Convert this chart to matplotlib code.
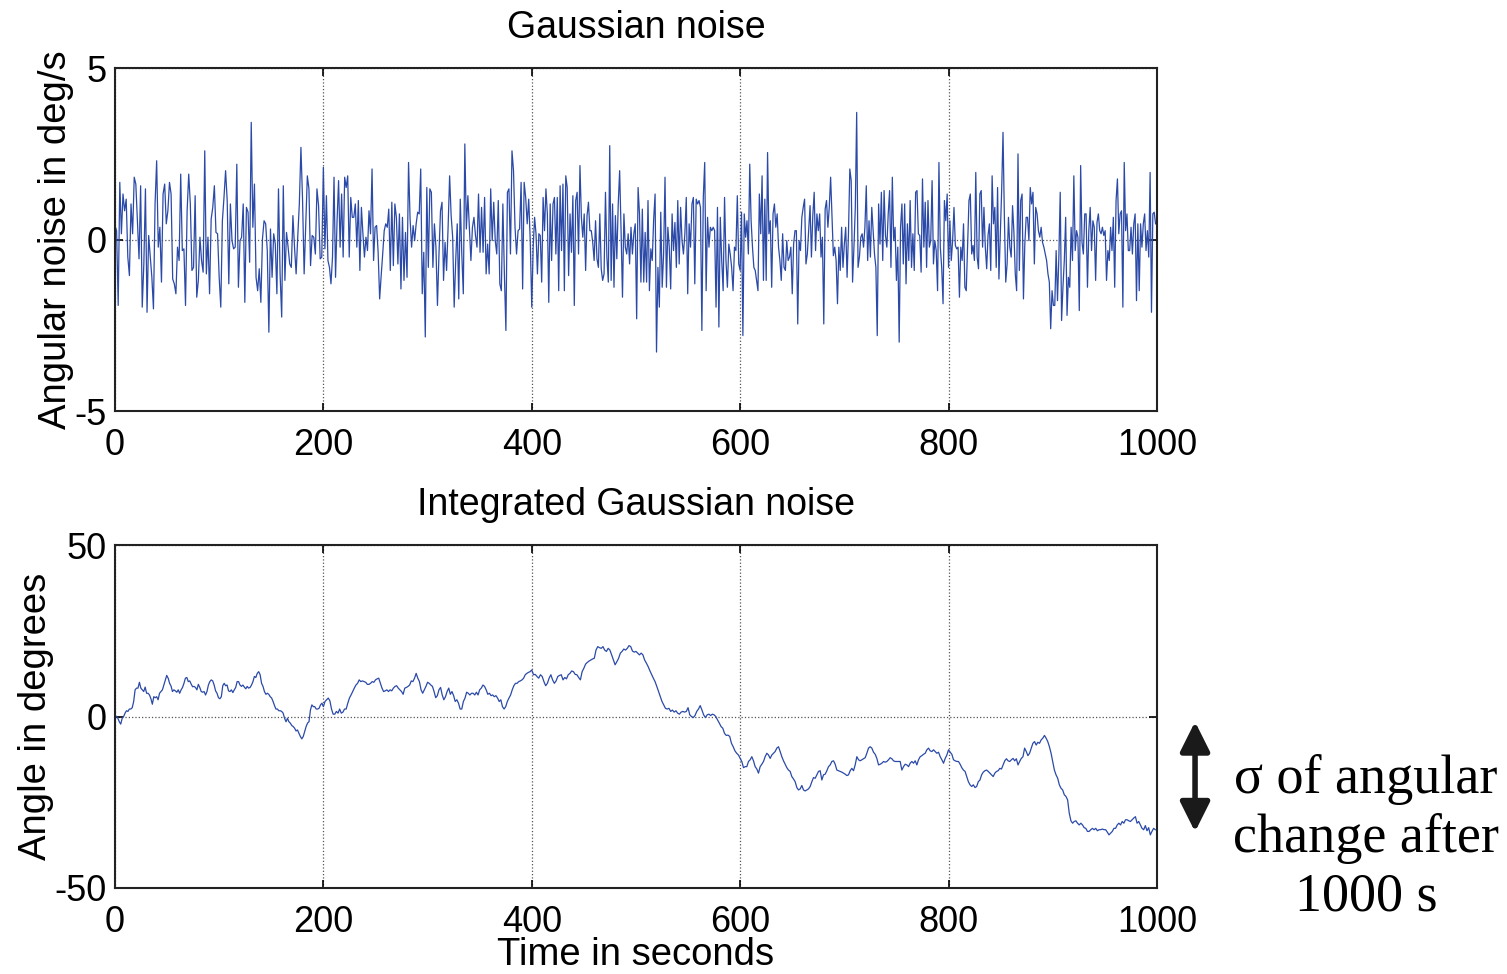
import numpy as np
import matplotlib.pyplot as plt

plt.rcParams['font.family'] = ['Liberation Sans', 'DejaVu Sans']
plt.rcParams['axes.unicode_minus'] = False

# angular noise in deg/s, one list per 200 s block
noise_000_200 = [0.41, 0.26, -1.92, 1.67, 0.17, 1.33, 0.84, 1.18, -0.51, -1.05, 1.04, 0.17, 1.82, 1.62, 0.55,
                 -0.56, 1.57, -1.97, -0.71, 1.48, -2.12, 0.12, -0.51, -1.10, -2.02, 1.04, 2.30, -0.22, 0.36, -1.24,
                 1.33, 1.62, 0.46, 0.84, 1.67, 1.33, -1.15, -1.29, -1.58, -0.22, -0.61, 1.91, -0.32, -0.27, -1.92,
                 0.84, 1.91, 1.04, -0.90, -0.81, 1.28, -1.68, -1.19, 0.07, -0.61, -0.95, 2.59, -1.00, 0.07, -1.58,
                 0.60, 0.94, 1.57, 0.21, 0.17, -1.10, -1.97, 0.55, 1.23, 2.01, 1.14, -1.29, 1.04, -0.03, -0.27,
                 -0.22, 2.20, -1.39, -0.03, 0.07, 1.04, -1.83, 0.94, 0.80, -0.66, 3.42, 0.36, 1.62, -1.10, -1.49,
                 -0.85, -1.83, 0.02, 0.55, 0.46, -0.32, -2.70, 0.31, -1.10, 0.17, -0.13, -1.58, 1.48, -1.00, -2.26,
                 1.57, -1.19, 0.21, -0.22, -0.71, -0.81, 0.70, -0.22, -1.00, 0.07, 1.04, 2.69, 1.18, -1.00, 0.41,
                 1.86, 1.48, -0.76, 0.12, 0.07, -0.42, 1.48, 0.99, -0.56, -0.51]
noise_200_400 = [2.11, -0.27, 1.28, -0.61, -0.81, -1.29, -0.51, 1.82, -1.10, 0.55, 1.72, -0.22, 1.33, -0.51, 1.82,
                 1.52, 1.86, -0.51, 1.23, 0.65, 0.65, 1.04, -0.22, 1.14, -0.90, 0.94, 0.17, -0.51, 0.07, -0.32,
                 0.84, 0.17, 2.06, -0.61, 0.36,
                 0.41, -0.37, -1.73, -1.05, -0.42, 0.26, 0.46, 0.36, 0.89, -0.90, 1.09, -0.76, 1.04, 0.65, -0.71,
                 0.75, -1.44, 0.65, -1.19, 0.21, -1.10, 2.25, 0.60, -0.22, 0.41, -0.03, 0.46, 0.80, 0.75, 2.06,
                 -1.58, -0.37, -2.84, 1.52, -0.81, 1.48, 1.38, -0.81, 0.46, -0.22, -1.92, -0.42, 0.84, 1.09, -1.19,
                 -0.08, -0.90, 0.36, 1.86, 0.70, 0.07, -1.97, -0.61, 0.46, -1.73, 1.18, -0.42, -1.58, 2.79, 0.31,
                 1.28, 0.36, -0.61, 0.36, 0.65, 0.12, -0.22, 1.33, -0.37, 0.94, -0.37, 1.23, -1.00, -0.13, -1.00,
                 1.48, -0.03, 1.09, -0.03, -0.42, 1.14, -1.29, -1.49, 1.04, -1.00, -2.65, 1.38, 1.48, -0.42, 2.59,
                 2.01, 0.36, -0.42, 0.26, 0.31, 1.67, -1.44, 1.67, 1.23, 0.46, 1.18, -0.03]
noise_400_600 = [-1.97, -0.22, 0.65, 0.17, -1.00, 0.17, 0.12, -1.24, 1.23, 0.26, 1.48, 0.75, -1.83, 1.04, -0.61,
                 1.04, 1.23, -0.42, 1.23, -1.49, 1.57, -0.32, 1.62, -1.49, 1.86, 1.52, -1.05, 0.75, -0.37, 1.28,
                 -1.92, 1.14, 1.38, -0.42, 2.16, 0.65, 0.07, 0.75, -0.90, 0.70, 1.09, 0.26, 0.26, -0.08, -0.61,
                 0.55, -0.56, -0.81, 0.75, -0.85, -1.19, -1.00, 1.38, -0.51, -1.24, 2.74, -1.19, 1.04, -1.39, 0.70,
                 -0.56, 1.04, 2.01, 0.26, -1.68, 0.75, -0.22, -0.42, 0.17, -0.71, 0.36, -0.42, 0.17, 0.46, -2.31,
                 1.52, 0.75, -1.24, 0.89, -1.24, 0.21, -1.24, 1.14, -1.49, -0.27, -0.61, 0.60, 1.33, -3.28, -0.81,
                 -1.97, 0.80, -1.39, -0.42, 1.82, -1.39, 0.36, -0.22, -1.44, 0.75, -0.32, 0.50, -0.81, 1.14, -0.71,
                 0.94, -0.03, -0.42, 0.17, 1.23, -1.58, 0.46, -0.22, 1.04, 1.23, -1.29, 1.18, 1.04, 1.14, 0.94,
                 -2.65, 1.23, 2.25, -1.49, 0.65, -0.22, 0.36, 0.26, 0.36, 0.26, -1.97, 0.94, -2.55, 0.65, -0.61,
                 -1.49, 1.23, -0.61, -1.39, -0.13, -0.42, -0.81, -1.49, -0.22, -0.32, 1.28, -0.71]
noise_600_800 = [-0.90, 0.80, -2.80, 0.75, 0.07, 0.55, -0.42, 2.20, 0.55, -0.22, -0.81, -0.90, -1.19, -1.49, 1.33,
                 0.17, 1.86, -1.19, 1.18, -1.19, 2.54, 0.17, 0.55, -1.39, 0.75, 1.04, 0.36, 0.75, -0.22, -0.61,
                 -1.19, 0.17, -0.81, -0.90, -0.03, -0.61, -0.51, -0.22, -1.58, -0.13, 0.26, 0.26, -2.46, -0.03, -0.32,
                 0.65, 0.94, 1.18, -0.71, -0.42, 0.26, 0.99, -0.51, 0.70, 1.38, -0.32, 0.75, 0.26, 0.75, -0.51,
                 0.07, -2.46, 0.89, 1.14, 0.36, 0.94, 1.82, 0.65, -0.47, -0.22, -0.61, -1.87, -0.22, -0.90, 0.36,
                 -0.81, -0.13, 0.36, -1.10, 0.17, 2.06, 1.72, -1.24, -0.22, 0.94, 3.71, -0.81, -0.51, 0.07, 0.17,
                 -0.22, 0.36, 1.57, -0.61, 0.55, -0.51, 0.94, 0.26, -0.42, -0.81, -2.80, 1.04, -0.13, 1.38, -0.61,
                 1.43, 0.12, -0.22, 0.75, 1.43, -0.81, 1.82, -0.03, 0.36, -1.19, -0.22,
                 -2.99, 0.36, 1.04, -0.71, 1.04, -1.29, 0.46, -0.61, 1.14, -0.81, 0.17, -0.90, 1.38, 1.43, 0.17,
                 0.12, -0.95, 1.77, -0.22, 1.09, -0.81, 1.14, -0.22, -0.03, 1.72, -0.71, -0.03, -0.32, -1.49, 2.25,
                 -0.22, -0.81, -1.87, 1.14, 0.55, 1.33]
noise_800_1000 = [-0.81, 0.55, -0.61, -0.03, 0.94, -0.17, -0.27, -0.22, -1.68, -0.22, -0.61, 0.46, -1.39, -1.49,
                  -0.22, 1.14, 1.33, -0.42, -0.17, -0.61, 1.96, -0.51, -0.85, 1.33, 1.43, -0.22, 0.94, -0.22, -0.85,
                  0.12, 0.46, -0.90, 1.86, 0.46, 0.94, -0.81, 1.52, -1.15, 0.17, 1.43, 3.13, 0.65, -1.24, -0.71,
                  0.65, -0.22, -0.51, 0.99, 0.21, -1.00, -1.49, 2.50, -0.90, 1.14, 1.33, -1.73, -0.13, 0.65, 0.65,
                  -0.03, 1.52, 1.04, 1.38, -0.71, 0.94, 0.75, 0.26, 0.07, 0.36, -0.08, -0.22, -0.42, -0.61, -1.00,
                  -1.24, -2.60, -1.49, -1.92, -1.92, -0.32, -1.78, -0.51, 1.38, -2.36, -1.39, -0.61, 0.65, -2.21,
                  -1.10, -1.39, 0.36, -0.61, 1.86, -0.32, 0.26, 0.07, -2.07, 2.16, -0.08, -0.42, 0.75, 0.75, -1.39,
                  0.26, 0.94, -0.32, 0.55, 0.36, -1.19, 0.50, 0.75, 0.26, 0.17, 0.36, 0.12, 0.26, -1.19, -0.32,
                  -0.61, 0.36, -0.32, 0.65, -1.39, 1.14, 1.77, 0.17, 0.75, 0.84, -1.97, 2.25, 0.26, 0.75, -0.32,
                  -0.32, 0.36, -0.42, 0.46, 0.75, -1.78, 0.46, -1.49, 0.46, -0.22, 0.46, 0.75, -0.32, 0.26, -0.51,
                  1.96, -2.12, 0.75, 0.80, 0.46]

# integrated noise (angle in degrees)
angle_000_200 = [0.3, 0, -0.5, -1.5, -2.2, -0.5, 0, 1.0, 1.7, 1.5, 2.2, 2.2, 2.6, 4.4, 7.8, 8.3, 8.3, 10.0, 8.3,
                 7.8, 7.3, 8.6, 6.8, 6.8, 6.3, 5.2, 3.6, 5.8, 5.5, 5.8, 4.9, 6.8, 7.3, 7.8, 9.2, 10.7, 12.0, 11.2,
                 9.7, 8.9, 7.3, 7.8, 7.5, 7.1, 7.8, 6.8, 7.8, 8.5, 9.7, 11.2, 11.4, 10.2, 10.4, 9.5, 8.7, 8.8, 8.5,
                 7.8, 9.4, 8.5, 7.3, 7.1, 7.3, 6.3, 7.3, 9.2, 10.2, 10.7, 10.4, 9.2, 7.5, 6.8, 5.5, 5.2, 5.8, 9.0,
                 9.7, 9.0, 9.2, 7.5, 7.3, 7.8, 7.0, 7.8, 8.5, 10.2, 10.2, 9.2, 8.8, 9.2, 8.6, 8.1, 8.8, 8.3, 8.5,
                 9.2, 10.2, 11.7, 11.4, 12.6, 13.1, 12.2, 9.7, 8.8, 7.3, 6.5, 6.8, 6.5, 5.8, 5.4, 4.4, 3.2, 2.2,
                 2.2, 1.7, 1.7, 1.5, 1.0, -0.5, -1.5, -0.5, -1.5, -1.9, -2.6, -2.9, -3.4, -4.2, -3.9, -4.9, -5.8,
                 -6.5, -5.8, -4.4, -2.9, -1.9, -1.5, 1.9, 3.4, 2.9, 2.9, 2.2, 2.2, 2.4, 3.4, 3.9]
angle_200_400 = [2.9, 4.4, 4.9, 5.4, 4.6, 2.2, 0.7, 0.7, 1.5, 1.0, 2.2, 1.0, 1.3, 2.2, 2.2, 3.9, 5.4, 6.3, 7.3,
                 8.3, 9.2, 9.7, 10.7, 10.2, 10.4, 10.2, 10.0, 9.4, 9.4, 9.7, 10.2, 10.0, 10.7, 11.0, 11.2,
                 9.7, 8.3, 7.3, 7.5, 7.8, 7.3, 7.8, 7.5, 8.3, 8.8, 9.0, 8.3, 7.8, 7.3, 6.5, 8.3, 8.5, 8.8, 9.2,
                 10.4, 10.2, 11.2, 12.6, 11.2, 10.2, 7.8, 6.8, 7.8, 8.8, 10.0, 9.7, 9.2, 8.8, 7.3, 5.5, 6.1, 7.8,
                 8.5, 6.3, 4.9, 5.8, 7.3, 8.3, 6.5, 7.3, 6.1, 4.4, 4.9, 3.9, 2.2, 2.2, 4.4, 5.4, 7.1, 6.8, 6.3,
                 6.8, 6.8, 6.3, 7.1, 6.3, 7.8, 8.3, 9.2, 8.8, 7.8, 6.5, 6.8, 6.1, 6.3, 5.8, 6.1, 5.4, 4.4, 4.9,
                 2.9, 2.2, 2.9, 4.4, 5.4, 6.3, 7.8, 9.0, 9.7, 9.7, 10.2, 10.4, 10.7, 11.2, 12.2, 12.6, 12.9, 13.1]
angle_400_600 = [13.6, 12.2, 12.3, 11.7, 11.2, 12.2, 11.7, 10.2, 9.0, 9.7, 11.2, 12.2, 10.7, 9.7, 10.4, 11.7,
                 12.0, 12.2, 10.7, 11.4, 11.0, 12.2, 12.6, 13.3, 13.1, 12.3, 12.2, 11.4, 10.7, 13.1, 14.1, 15.3,
                 15.8, 16.2, 16.5, 16.8, 17.0, 19.4, 20.4, 20.1, 19.9, 20.4, 19.4, 19.0, 19.9, 19.4, 18.0, 16.5,
                 15.1, 16.0, 17.0, 18.5, 19.0, 19.7, 19.4, 19.9, 20.7, 20.4, 19.1, 18.8, 19.0, 18.5, 18.0, 18.5,
                 18.0, 16.5, 15.6, 14.6, 13.4, 12.3, 11.2,
                 10.2, 8.8, 7.3, 5.8, 4.4, 3.4, 2.4, 2.2, 2.4, 1.5, 1.9, 1.3, 1.7, 1.0, 0.7, 1.3, 1.5, 1.3, 1.5,
                 2.6, 0.5, 0, -0.3, 0.3, 1.5, 2.2, 3.2, 1.9, 0.5, -0.3, 0.5, 0.7, 0.3, 0.7, 0.5, 0, -1.0, -1.9,
                 -2.9, -3.4, -4.9, -5.5, -5.4, -5.8, -7.8, -8.8, -10.0, -10.7, -11.2]
angle_600_800 = [-12.2, -13.1, -14.9, -14.6, -14.6, -13.1, -12.6, -11.7, -12.9, -14.6, -15.3, -16.5, -14.6,
                 -13.9, -13.1, -11.7, -10.7, -11.2, -12.2, -11.2, -10.7, -10.2, -9.2, -8.8, -10.2, -11.7, -12.9,
                 -13.9, -14.9, -15.6, -16.0, -17.5, -18.2, -19.0, -20.7, -21.4, -21.1, -20.1, -21.4, -21.7, -21.4,
                 -21.1, -20.4, -19.0, -17.8, -18.0, -17.0, -16.0, -15.8, -18.5, -17.0, -16.8, -15.8, -14.6, -14.1,
                 -13.1, -12.9, -13.9, -15.6, -15.8, -16.0, -16.2, -16.5, -16.8, -17.2, -17.0, -15.8, -15.1, -15.8,
                 -14.1, -11.7, -12.6, -12.9, -12.6, -12.3, -12.0, -10.7, -9.2, -8.8, -9.2, -10.4, -11.0, -12.2,
                 -14.1, -13.9, -13.6, -13.1, -13.3, -13.1, -12.6, -12.0, -12.3, -12.9, -13.1, -13.1, -13.1, -13.1,
                 -15.6, -14.6, -13.9, -14.1, -14.6, -13.6, -13.1, -13.6, -12.9, -14.1, -12.6, -11.7, -11.4, -11.0,
                 -10.7, -9.7, -9.2, -10.0, -10.2, -9.7, -10.2, -10.7, -10.4, -11.7, -12.6, -13.6, -12.2, -11.2]
angle_800_1000 = [-9.7, -10.4, -11.0, -12.6, -12.9, -13.1, -13.1, -13.9, -14.9, -15.6, -16.0, -17.5, -19.0,
                  -19.9, -20.4, -19.9, -20.7, -20.4, -19.0, -18.5, -17.0, -16.2, -15.8, -15.6, -16.0, -16.5,
                  -17.0, -17.5, -16.5, -16.0, -15.8, -15.1, -15.3, -14.1, -12.9, -12.3, -12.9, -13.1, -12.6,
                  -12.2, -12.9, -12.3, -14.1, -13.1, -12.2, -11.7, -9.2, -10.2, -11.4, -10.7, -9.2, -7.8, -7.3,
                  -8.3, -7.5, -7.8, -6.8, -6.3, -5.5, -6.3, -7.3, -8.8, -10.7, -13.1, -15.6, -17.0, -18.0, -19.9,
                  -20.9, -21.4, -22.8, -23.3, -24.3, -28.2, -30.4, -31.1, -30.6, -30.4, -31.1, -31.6, -31.1,
                  -31.6, -32.4, -32.6, -33.5, -33.5, -33.0, -32.6, -33.0, -32.6, -33.3, -33.0, -33.0, -32.8,
                  -33.0, -33.0, -33.7, -34.5, -34.0, -33.5, -32.6, -32.6, -31.6, -31.1, -31.6, -30.6, -31.1,
                  -30.1, -30.1, -30.4, -30.6, -30.1, -29.6, -29.2, -31.1, -30.6, -31.6, -32.6, -33.0, -31.8,
                  -33.3, -32.4, -34.5, -33.5, -32.6, -33.0]

x_ticks = [0, 200, 400, 600, 800, 1000]
noise_yticks = [-5, 0, 5]
angle_yticks = [-50, 0, 50]


def join_blocks(blocks):
    ts, vs = [], []
    for i, block in enumerate(blocks):
        start = 200 * i
        ts.append(np.linspace(start, start + 200, len(block), endpoint=False))
        vs.append(np.array(block))
    return np.concatenate(ts), np.concatenate(vs)


def style_axes(ax, yticks):
    ax.set_xlim(0, 1000)
    ax.set_ylim(yticks[0], yticks[-1])
    ax.set_xticks(x_ticks)
    ax.set_yticks(yticks)
    ax.set_xticklabels([str(v) for v in x_ticks])
    ax.set_yticklabels([str(v) for v in yticks])
    ax.tick_params(direction='in', length=6, width=1.2, top=True, right=True,
                   labelsize=26, pad=6)
    ax.tick_params(axis='x', pad=12)
    for s in ax.spines.values():
        s.set_linewidth(1.5)
        s.set_color('#222222')
    ax.grid(True, linestyle=':', color='#555555', linewidth=0.9)


line_color = '#2b4aa8'

fig = plt.figure(figsize=(15.07, 9.74), dpi=100)
ax1 = fig.add_axes([0.0763, 0.578, 0.6914, 0.352])
ax2 = fig.add_axes([0.0763, 0.0883, 0.6914, 0.352])

t_noise, v_noise = join_blocks([noise_000_200, noise_200_400, noise_400_600, noise_600_800, noise_800_1000])
t_angle, v_angle = join_blocks([angle_000_200, angle_200_400, angle_400_600, angle_600_800, angle_800_1000])

ax1.plot(t_noise, v_noise, color=line_color, linewidth=0.9)
style_axes(ax1, noise_yticks)
ax1.set_title('Gaussian noise', fontsize=27, pad=22)
ax1.set_ylabel('Angular noise in deg/s', fontsize=27.5, labelpad=0)

ax2.plot(t_angle, v_angle, color=line_color, linewidth=0.9)
style_axes(ax2, angle_yticks)
ax2.set_title('Integrated Gaussian noise', fontsize=27, pad=22)
ax2.set_ylabel('Angle in degrees', fontsize=27.5, labelpad=0)
ax2.set_xlabel('Time in seconds', fontsize=27.5, labelpad=-2)

# double arrow + note on the right
ax2.annotate('', xy=(0.793, 0.259), xytext=(0.793, 0.146),
             xycoords='figure fraction', textcoords='figure fraction',
             arrowprops=dict(arrowstyle='<|-|>,head_length=0.9,head_width=0.45',
                             lw=4, color='#1a1a1a', mutation_scale=20,
                             shrinkA=0, shrinkB=0))
fig.text(0.9065, 0.1395, 'σ of angular\nchange after\n1000 s', ha='center', va='center',
         family=['Liberation Serif', 'DejaVu Serif'], fontsize=39, linespacing=1.2)

fig.savefig('out.png', dpi=100)
